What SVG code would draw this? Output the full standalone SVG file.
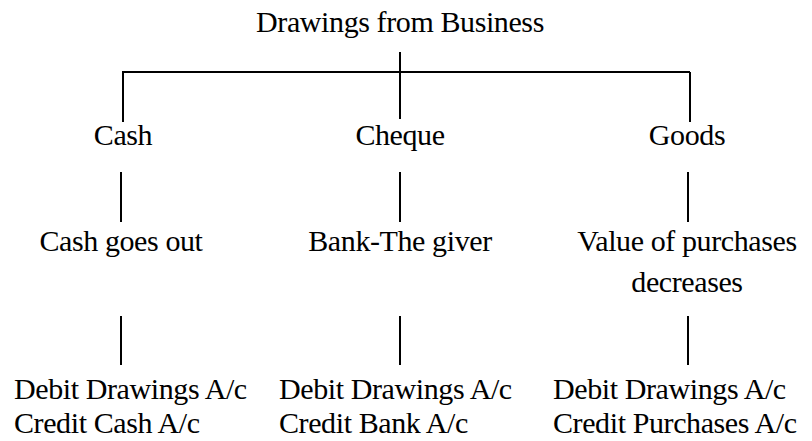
<svg xmlns="http://www.w3.org/2000/svg" width="812" height="441" viewBox="0 0 812 441" font-family="Liberation Serif" font-size="30">
<style>
text{fill:#000;letter-spacing:-0.4px}
.m{text-anchor:middle}
.c line{stroke:#000;stroke-width:2}
</style>
<rect width="812" height="441" fill="#fff"/>
<g class="c" id="connectors">
<line x1="122" y1="72" x2="690" y2="72"/>
<line x1="400" y1="52" x2="400" y2="119"/>
<line x1="123" y1="72" x2="123" y2="122"/>
<line x1="690" y1="72" x2="690" y2="122"/>
<line x1="121" y1="172" x2="121" y2="222"/>
<line x1="400" y1="172" x2="400" y2="222"/>
<line x1="688" y1="172" x2="688" y2="222"/>
<line x1="121" y1="316" x2="121" y2="365"/>
<line x1="400" y1="316" x2="400" y2="365"/>
<line x1="688" y1="316" x2="688" y2="365"/>
</g>
<g id="root"><text class="m" x="400" y="32">Drawings from Business</text></g>
<g id="cash"><text class="m" x="123" y="145">Cash</text></g>
<g id="cheque"><text class="m" x="400" y="145">Cheque</text></g>
<g id="goods"><text class="m" x="687" y="145">Goods</text></g>
<g id="cash-out"><text class="m" x="121" y="251">Cash goes out</text></g>
<g id="bank-giver"><text class="m" x="400" y="251">Bank-The giver</text></g>
<g id="purchases-dec"><text class="m" x="687" y="251">Value of purchases</text><text class="m" x="687" y="292">decreases</text></g>
<g id="entry-cash"><text x="14" y="399">Debit Drawings A/c</text><text x="14" y="433">Credit Cash A/c</text></g>
<g id="entry-bank"><text x="279" y="399">Debit Drawings A/c</text><text x="279" y="433">Credit Bank A/c</text></g>
<g id="entry-goods"><text x="553" y="399">Debit Drawings A/c</text><text x="553" y="433">Credit Purchases A/c</text></g>
</svg>
